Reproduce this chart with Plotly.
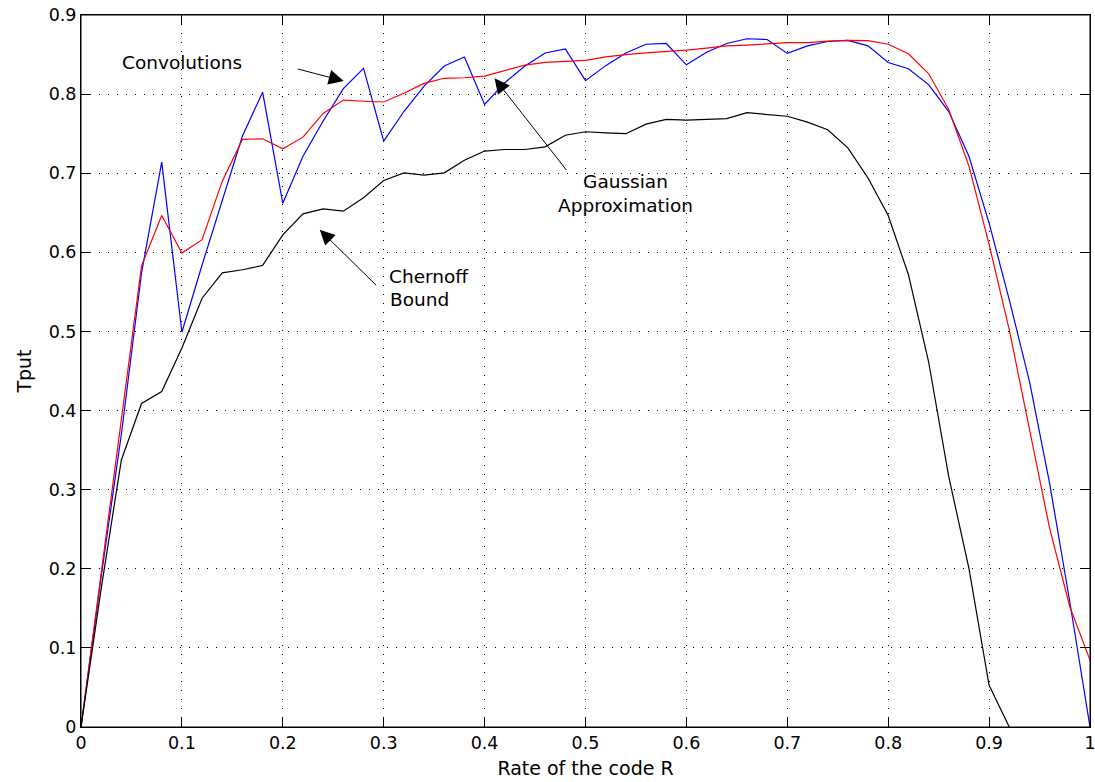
import plotly.graph_objects as go

rate = [round(i * 0.02, 2) for i in range(51)]

convolutions = [0, 0.19, 0.37, 0.574, 0.714, 0.499, 0.584, 0.665, 0.747, 0.8025,
                0.662, 0.7215, 0.766, 0.807, 0.8325, 0.7405, 0.778, 0.810, 0.8355, 0.847,
                0.787, 0.8144, 0.8355, 0.852, 0.857, 0.817, 0.836, 0.852, 0.863, 0.864,
                0.837, 0.853, 0.864, 0.870, 0.869, 0.8515, 0.861, 0.8665, 0.868, 0.861,
                0.840, 0.832, 0.812, 0.778, 0.7215, 0.637, 0.540, 0.437, 0.308, 0.158, 0.0]

gaussian = [0, 0.195, 0.39, 0.583, 0.6465, 0.599, 0.616, 0.690, 0.7427, 0.7435,
            0.731, 0.7456, 0.7756, 0.7924, 0.791, 0.790, 0.801, 0.8135, 0.820, 0.8207,
            0.8228, 0.830, 0.8367, 0.840, 0.841, 0.8427, 0.847, 0.850, 0.852, 0.8537,
            0.8557, 0.8582, 0.861, 0.862, 0.8638, 0.865, 0.865, 0.867, 0.868, 0.8676,
            0.863, 0.851, 0.826, 0.7806, 0.709, 0.610, 0.502, 0.375, 0.251, 0.152, 0.0845]

chernoff_rate = rate[:47]
chernoff = [0, 0.175, 0.3375, 0.409, 0.424, 0.479, 0.542, 0.574, 0.578, 0.5835,
            0.622, 0.6486, 0.655, 0.652, 0.669, 0.6908, 0.7005, 0.6975, 0.7005, 0.7165,
            0.728, 0.730, 0.730, 0.7334, 0.748, 0.7524, 0.751, 0.750, 0.762, 0.768,
            0.767, 0.768, 0.769, 0.7765, 0.774, 0.772, 0.7646, 0.755, 0.732, 0.694,
            0.6465, 0.572, 0.462, 0.3165, 0.2005, 0.0528, 0.0]

x_ticks = [0, 0.1, 0.2, 0.3, 0.4, 0.5, 0.6, 0.7, 0.8, 0.9, 1]
x_tick_labels = ["0", "0.1", "0.2", "0.3", "0.4", "0.5", "0.6", "0.7", "0.8", "0.9", "1"]
y_ticks = [0, 0.1, 0.2, 0.3, 0.4, 0.5, 0.6, 0.7, 0.8, 0.9]
y_tick_labels = ["0", "0.1", "0.2", "0.3", "0.4", "0.5", "0.6", "0.7", "0.8", "0.9"]

FONT = "DejaVu Sans"

fig = go.Figure()
fig.add_trace(go.Scatter(x=rate, y=convolutions, mode="lines", name="Convolutions",
                         line=dict(color="#0000FF", width=1.2)))
fig.add_trace(go.Scatter(x=rate, y=gaussian, mode="lines", name="Gaussian Approximation",
                         line=dict(color="#FF0000", width=1.2)))
fig.add_trace(go.Scatter(x=chernoff_rate, y=chernoff, mode="lines", name="Chernoff Bound",
                         line=dict(color="#000000", width=1.2)))

# arrows: (head x, head y, tail x, tail y)
arrows = [(0.2604, 0.8165, 0.2136, 0.8322),
          (0.4099, 0.8199, 0.4822, 0.7022),
          (0.2366, 0.6286, 0.294, 0.5566)]
for hx, hy, tx, ty in arrows:
    fig.add_annotation(x=hx, y=hy, ax=tx, ay=ty, xref="x", yref="y", axref="x", ayref="y",
                       showarrow=True, arrowhead=2, arrowsize=3, arrowwidth=1,
                       arrowcolor="black", text="")

labels = [("Convolutions", 0.1004, 0.840),
          ("Gaussian<br>Approximation", 0.5400, 0.675),
          ("Chernoff", 0.345, 0.569),
          ("Bound", 0.3356, 0.540)]
for txt, lx, ly in labels:
    fig.add_annotation(x=lx, y=ly, xref="x", yref="y", text=txt, showarrow=False,
                       font=dict(family=FONT, size=18.5, color="black"),
                       xanchor="center", yanchor="middle", align="center")

# frame around the plotting area
fig.add_shape(type="rect", xref="paper", yref="paper", x0=0, x1=1, y0=0, y1=1,
              line=dict(color="black", width=1), layer="above")

axis_common = dict(showline=True, linecolor="black", linewidth=1, mirror="ticks",
                   ticks="inside", ticklen=10, tickcolor="black", tickwidth=1,
                   showgrid=True, gridcolor="black", gridwidth=1, griddash="1px,8px",
                   zeroline=False, ticklabeloverflow="allow",
                   tickfont=dict(family=FONT, size=17.5, color="black"))

fig.update_xaxes(range=[0, 1], tickvals=x_ticks, ticktext=x_tick_labels,
                 title=dict(text="Rate of the code R", font=dict(family=FONT, size=19, color="black"),
                            standoff=9),
                 **axis_common)
fig.update_yaxes(range=[0, 0.9], tickvals=y_ticks, ticktext=y_tick_labels,
                 title=dict(text="Tput", font=dict(family=FONT, size=19, color="black"),
                            standoff=12),
                 **axis_common)

fig.update_layout(width=1095, height=782, margin=dict(l=81, r=5, t=15, b=55, autoexpand=False),
                  plot_bgcolor="white", paper_bgcolor="white", showlegend=False,
                  font=dict(family=FONT, color="black"))

fig.write_html("out.html")
